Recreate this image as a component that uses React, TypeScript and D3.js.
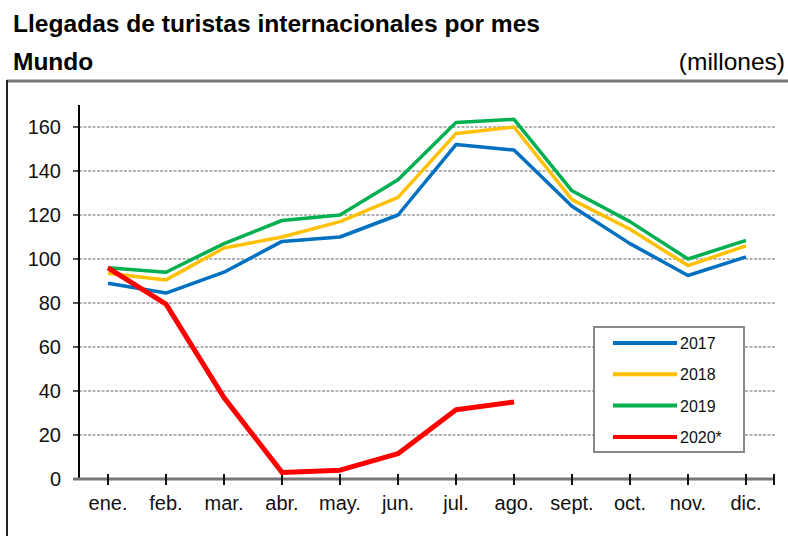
import { useRef, useEffect } from 'react';
import * as d3 from 'd3';

const months = ['ene.', 'feb.', 'mar.', 'abr.', 'may.', 'jun.', 'jul.', 'ago.', 'sept.', 'oct.', 'nov.', 'dic.'];
const values2017 = [89, 84.5, 94, 108, 110, 120, 152, 149.5, 124, 107, 92.5, 101];
const values2018 = [93.5, 90.5, 105, 110, 117, 128, 157, 160, 127, 113.5, 97, 106];
const values2019 = [96, 94, 107, 117.5, 120, 136, 162, 163.5, 131, 117, 100, 108.5];
const values2020 = [96, 79.5, 37, 3, 4, 11.5, 31.5, 35];
const yTicks = [0, 20, 40, 60, 80, 100, 120, 140, 160];
const seriesNames = ['2017', '2018', '2019', '2020*'];

const FONT = 'Liberation Sans, Arial, sans-serif';

export default function App() {
  const svgRef = useRef<SVGSVGElement>(null);

  useEffect(() => {
    document.body.style.margin = '0';
    if (!svgRef.current) return;
    const svg = d3.select(svgRef.current);
    svg.selectAll('*').remove();

    const width = 788;
    const height = 536;

    svg.append('rect').attr('width', width).attr('height', height).attr('fill', '#fff');

    // titles
    svg.append('text')
      .attr('x', 13).attr('y', 32)
      .attr('font-family', FONT).attr('font-weight', 'bold').attr('font-size', 24.5)
      .attr('fill', '#000')
      .attr('textLength', 527).attr('lengthAdjust', 'spacingAndGlyphs')
      .text('Llegadas de turistas internacionales por mes');
    svg.append('text')
      .attr('x', 13).attr('y', 70)
      .attr('font-family', FONT).attr('font-weight', 'bold').attr('font-size', 24.5)
      .attr('fill', '#000')
      .text('Mundo');
    svg.append('text')
      .attr('x', 785).attr('y', 70)
      .attr('text-anchor', 'end')
      .attr('font-family', FONT).attr('font-size', 24.5)
      .attr('fill', '#000')
      .text('(millones)');

    // frame
    svg.append('line').attr('x1', 7).attr('x2', width).attr('y1', 81).attr('y2', 81)
      .attr('stroke', '#777').attr('stroke-width', 3);
    svg.append('line').attr('x1', 7).attr('x2', 7).attr('y1', 80).attr('y2', height)
      .attr('stroke', '#222').attr('stroke-width', 2);

    const x = d3.scaleBand<string>().domain(months).range([79, 775]).padding(0);
    const cx = (m: string) => (x(m) ?? 0) + x.bandwidth() / 2;
    const y = d3.scaleLinear().domain([0, 170]).range([479, 105]);

    // gridlines
    svg.append('g').selectAll('line')
      .data(yTicks.filter(t => t > 0))
      .join('line')
      .attr('x1', 79).attr('x2', 775)
      .attr('y1', d => y(d)).attr('y2', d => y(d))
      .attr('stroke', '#9a9a9a').attr('stroke-width', 1.5)
      .attr('stroke-dasharray', '3,1.5');

    // y ticks
    svg.append('g').selectAll('line')
      .data(yTicks)
      .join('line')
      .attr('x1', 73).attr('x2', 79)
      .attr('y1', d => y(d)).attr('y2', d => y(d))
      .attr('stroke', '#555').attr('stroke-width', 2);

    svg.append('g').selectAll('text')
      .data(yTicks)
      .join('text')
      .attr('x', 61).attr('y', d => y(d) + 7)
      .attr('text-anchor', 'end')
      .attr('font-family', FONT).attr('font-size', 20)
      .attr('fill', '#111')
      .text(d => d);

    // y axis
    svg.append('line').attr('x1', 79).attr('x2', 79).attr('y1', y(170)).attr('y2', y(0))
      .attr('stroke', '#000').attr('stroke-width', 2);

    // x axis
    svg.append('line').attr('x1', 73).attr('x2', 775).attr('y1', y(0)).attr('y2', y(0))
      .attr('stroke', '#777').attr('stroke-width', 3);
    svg.append('g').selectAll('line')
      .data([...months.map(cx), 774])
      .join('line')
      .attr('x1', d => d).attr('x2', d => d)
      .attr('y1', y(0) - 5).attr('y2', y(0) + 6)
      .attr('stroke', '#111').attr('stroke-width', 2);

    svg.append('g').selectAll('text')
      .data(months)
      .join('text')
      .attr('x', d => cx(d)).attr('y', 510)
      .attr('text-anchor', 'middle')
      .attr('font-family', FONT).attr('font-size', 20)
      .attr('fill', '#111')
      .text(d => d);

    // lines
    const series = [
      { name: seriesNames[0], values: values2017, color: '#0070C0', w: 3.5 },
      { name: seriesNames[1], values: values2018, color: '#FFC000', w: 3.5 },
      { name: seriesNames[2], values: values2019, color: '#00B050', w: 3.5 },
      { name: seriesNames[3], values: values2020, color: '#FF0000', w: 5 },
    ];
    const line = d3.line<number>()
      .x((_, i) => cx(months[i]))
      .y(d => y(d));

    series.forEach(s => {
      svg.append('path')
        .attr('d', line(s.values))
        .attr('fill', 'none')
        .attr('stroke', s.color)
        .attr('stroke-width', s.w)
        .attr('stroke-linejoin', 'round');
    });

    // legend
    const lg = svg.append('g');
    lg.append('rect')
      .attr('x', 594).attr('y', 327).attr('width', 150).attr('height', 125)
      .attr('fill', '#fff').attr('stroke', '#888').attr('stroke-width', 2);
    series.forEach((s, i) => {
      const ly = 343 + i * 31.3;
      lg.append('line')
        .attr('x1', 613).attr('x2', 677).attr('y1', ly).attr('y2', ly)
        .attr('stroke', s.color).attr('stroke-width', 4);
      lg.append('text')
        .attr('x', 680).attr('y', ly + 6)
        .attr('font-family', FONT).attr('font-size', 16)
        .attr('fill', '#111')
        .text(s.name);
    });
  }, []);

  return <svg ref={svgRef} width={788} height={536} style={{ display: 'block' }} />;
}
